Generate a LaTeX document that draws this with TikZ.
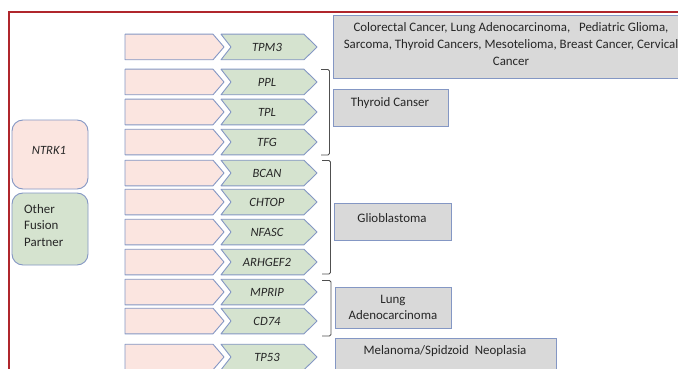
\documentclass[tikz,border=0pt]{standalone}
\usepackage{fontspec}
\setmainfont{Carlito}
\definecolor{pinkfill}{HTML}{FBE5E0}
\definecolor{greenfill}{HTML}{D5E3CF}
\definecolor{grayfill}{HTML}{D9D9D9}
\definecolor{edge}{HTML}{8497C4}
\definecolor{redline}{HTML}{B0262C}
\definecolor{txt}{HTML}{262626}
\definecolor{brk}{HTML}{505050}
\begin{document}
\begin{tikzpicture}[x=1pt,y=-1pt,
  pinkshape/.style={fill=pinkfill,draw=edge,line width=0.9pt,line join=round},
  greenshape/.style={fill=greenfill,draw=edge,line width=0.9pt,line join=round},
  gene/.style={font=\fontsize{12.6}{15}\selectfont\itshape,text=txt,inner sep=0pt},
  disease/.style={fill=grayfill,draw=edge,line width=0.9pt},
  dtext/.style={font=\fontsize{12.9}{16.7}\selectfont,text=txt,align=center,inner sep=0pt},
  bracketline/.style={draw=brk,line width=0.8pt,rounded corners=1.5pt},
  leftbox/.style={draw=edge,line width=0.9pt,rounded corners=11pt,minimum width=76pt}]
\useasboundingbox (0,0) rectangle (678,369);
\clip (0,0) rectangle (678,369);
\fill[white] (0,0) rectangle (678,369);
% red frame
\draw[redline,line width=1.3pt] (690,12) -- (9,12) -- (9,380);
% rows
\newcommand\generow[3]{%
  \draw[pinkshape] (125,#2-12.8) -- (213,#2-12.8) -- (224,#2) -- (213,#2+12.8) -- (125,#2+12.8) -- cycle;
  \draw[greenshape] (221,#2-12.8) -- (304,#2-12.8) -- (317,#2) -- (304,#2+12.8) -- (221,#2+12.8) -- (231,#2) -- cycle;
  \node[gene] (#1) at (267,#2) {#3};
}
\generow{tpm}{47}{TPM3}
\generow{ppl}{82}{PPL}
\generow{tpl}{112}{TPL}
\generow{tfg}{142}{TFG}
\generow{bcan}{173}{BCAN}
\generow{chtop}{202}{CHTOP}
\generow{nfasc}{232}{NFASC}
\generow{arh}{262}{ARHGEF2}
\generow{mprip}{292}{MPRIP}
\generow{cd}{321}{CD74}
\generow{tp}{357}{TP53}
% left boxes
\node[leftbox,fill=pinkfill,minimum height=69pt] (ntrk) at (50,154.5) {};
\node[gene] (ntrkt) at (49,150) {NTRK1};
\node[leftbox,fill=greenfill,minimum height=72pt] (ofp) at (50,229) {};
\node[font=\fontsize{12.9}{16.6}\selectfont,text=txt,align=left,anchor=west,inner sep=0pt] (ofpt) at (24,225.5) {Other\\Fusion\\Partner};
% brackets
\coordinate (b1t) at (321,69.5); \coordinate (b1b) at (321,155);
\coordinate (b2t) at (322,160.5); \coordinate (b2b) at (322,274);
\coordinate (b3t) at (322,280.5); \coordinate (b3b) at (322,336);
\draw[bracketline] (b1t) -- ++(8.5,0) |- (b1b);
\draw[bracketline] (b2t) -- ++(8.5,0) |- (b2b);
\draw[bracketline] (b3t) -- ++(9,0) |- (b3b);
% disease boxes
\draw[disease] (333,15) rectangle (700,78);
\node[dtext] (d1) at (511,44) {Colorectal Cancer, Lung Adenocarcinoma,\ \ \ Pediatric Glioma,\\Sarcoma, Thyroid Cancers, Mesotelioma, Breast Cancer, Cervical\\Cancer};
\draw[disease] (333,89) rectangle (448,126);
\node[dtext] (d2) at (390,103.5) {Thyroid Canser};
\draw[disease] (334,203) rectangle (451,240);
\node[dtext] (d3) at (392,218.5) {Glioblastoma};
\draw[disease] (335,287) rectangle (451,328);
\node[dtext] (d4) at (393,307.5) {Lung\\Adenocarcinoma};
\draw[disease] (335,338) rectangle (556,385);
\node[dtext] (d5) at (445,351.5) {Melanoma/Spidzoid\ \ Neoplasia};
\end{tikzpicture}
\end{document}
